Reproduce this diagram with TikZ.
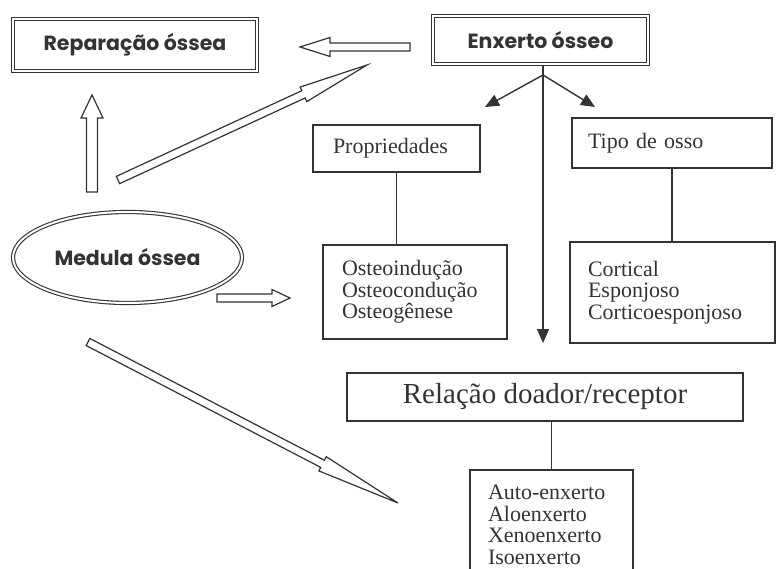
\documentclass[tikz,border=0pt]{standalone}
\usepackage{fontspec}
\setmainfont{Liberation Serif}
\newfontfamily\comicf{Poppins}
\usetikzlibrary{arrows.meta,shapes.geometric,calc}
\definecolor{ink}{HTML}{333333}
\newcommand\holarrow[5]{%
  \coordinate (hb) at ($(#2)!#5!(#1)$);
  \draw[hol] ($(#1)!#3!90:(#2)$) -- ($(hb)!#3!90:(#2)$) -- ($(hb)!#4!90:(#2)$) -- (#2)
    -- ($(hb)!#4!-90:(#2)$) -- ($(hb)!#3!-90:(#2)$) -- ($(#1)!#3!-90:(#2)$) -- cycle;}
\begin{document}
\begin{tikzpicture}[x=1pt,y=-1pt,
  box/.style={draw=ink, line width=1.3pt, inner sep=0pt, text=ink},
  dbox/.style={draw=ink, double=white, double distance=2pt, line width=1.1pt, inner sep=0pt, text=ink,
    font=\comicf\bfseries\fontsize{20.5}{24}\selectfont},
  serif/.style={font=\fontsize{22}{21.5}\selectfont},
  hol/.style={draw=ink, line width=1.2pt, fill=white, line join=miter},
  link/.style={draw=ink, line width=1.4pt},
  tip/.style={-{Triangle[length=14pt,width=12pt]}}]
\useasboundingbox (0,0) rectangle (779,569);
% boxes
\node[dbox, minimum width=244pt, minimum height=52pt] (rep) at (135,45) {Reparação óssea};
\node[dbox, minimum width=215pt, minimum height=48pt] (enx) at (540.5,40) {Enxerto ósseo};
\node[dbox, ellipse, minimum width=229pt, minimum height=91pt] (med) at (127.5,257.5) {Medula óssea};
\node[box, serif, minimum height=47pt, text width=127pt, inner xsep=20pt, align=left] (prop) at (396.5,148.5) {Propriedades};
\node[box, serif, minimum height=50pt, text width=168pt, inner xsep=16pt, align=left] (tipo) at (672,143) {Tipo de osso};
\node[box, serif, minimum height=94pt, text width=146pt, inner xsep=19pt, align=left] (ost) at (415,292) {Osteoindução\\Osteocondução\\Osteogênese};
\node[box, serif, minimum height=101pt, text width=169pt, inner xsep=18pt, align=left] (cort) at (672.5,292.5) {Cortical\\Esponjoso\\Corticoesponjoso};
\node[box, minimum height=48pt, minimum width=396pt, font=\fontsize{29}{32}\selectfont] (rel) at (545,397) {Relação doador/receptor};
\node[box, serif, minimum height=110pt, text width=127pt, inner xsep=18pt, align=left] (auto) at (551.5,525) {Auto-enxerto\\Aloenxerto\\Xenoenxerto\\Isoenxerto};
% connectors
\draw[link] (prop.south) -- (prop.south |- ost.north);
\draw[link] (tipo.south) -- (tipo.south |- cort.north);
\draw[link] (auto.north) -- (auto.north |- rel.south);
\coordinate (apex) at (543,75);
\coordinate (la) at (485,107);
\coordinate (ra) at (595,107);
\coordinate (vend) at (543,343);
\draw[link, tip] (apex) -- (la);
\draw[link, tip] (apex) -- (ra);
\draw[link, tip] (apex |- enx.south) -- (vend);
% hollow arrows
\coordinate (a1s) at (410,47); \coordinate (a1e) at (300,47);
\holarrow{a1s}{a1e}{4pt}{9.5pt}{30pt}
\coordinate (a2s) at (92,192); \coordinate (a2e) at (92,95);
\holarrow{a2s}{a2e}{5.5pt}{11pt}{23pt}
\coordinate (a3s) at (118,180); \coordinate (a3e) at (367,65);
\holarrow{a3s}{a3e}{4pt}{8pt}{70pt}
\coordinate (a4s) at (217,298); \coordinate (a4e) at (290,298);
\holarrow{a4s}{a4e}{4pt}{8.5pt}{18pt}
\coordinate (a5s) at (88,342); \coordinate (a5e) at (398,503);
\holarrow{a5s}{a5e}{4pt}{8pt}{85pt}
\end{tikzpicture}
\end{document}
